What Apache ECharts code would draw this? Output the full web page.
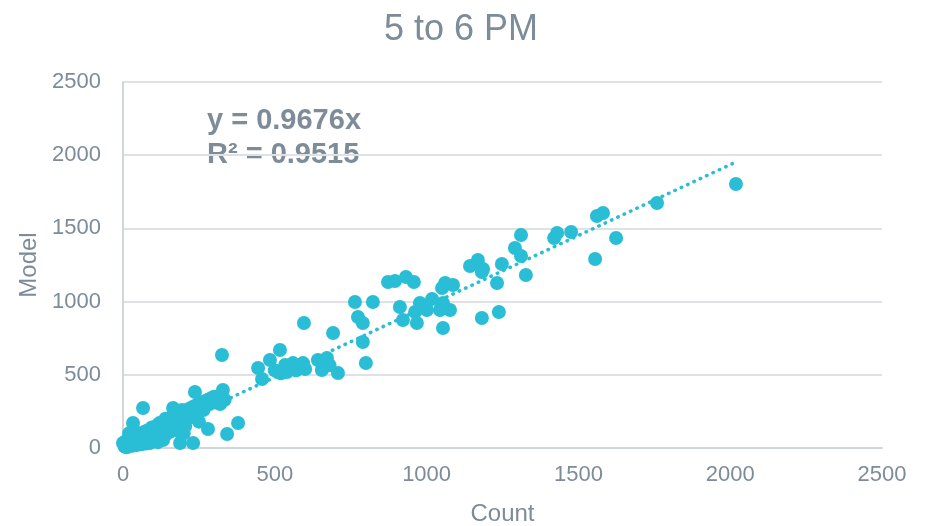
<!DOCTYPE html>
<html>
<head>
<meta charset="utf-8">
<title>5 to 6 PM</title>
<script src="https://cdn.jsdelivr.net/npm/echarts@6/dist/echarts.min.js"></script>
<style>
  html, body { margin: 0; padding: 0; background: #fff; }
  #chart { width: 927px; height: 526px; }
</style>
</head>
<body>
<div id="chart"></div>
<script>
const countLow = [0, 5, 10, 15, 20, 25, 30, 33, 35, 40, 45, 50, 55, 60, 66, 70, 75, 80, 89, 90, 95, 100, 105, 110, 115, 120, 125, 132, 135, 140, 145, 150, 155, 160, 165, 165, 170, 175, 180, 185, 188, 190, 195, 200, 205, 210, 215, 220, 225, 230, 231, 235, 237, 240, 245, 250, 255, 260, 265, 270, 275, 280, 280, 285, 290, 295, 300, 305, 310, 320, 326, 329, 335, 343, 379, 20, 8, 12, 45, 115, 200, 250, 140, 60, 30, 85, 130, 175];
const modelLow = [34, 10, 30, 55, 20, 45, 70, 171, 25, 60, 90, 40, 100, 70, 273, 110, 30, 120, 34, 80, 140, 110, 60, 150, 120, 170, 90, 55, 160, 200, 130, 180, 110, 210, 273, 150, 230, 190, 250, 170, 34, 220, 260, 200, 150, 250, 230, 270, 210, 280, 34, 250, 383, 290, 240, 300, 270, 310, 260, 320, 290, 130, 330, 300, 340, 320, 350, 310, 330, 300, 635, 396, 330, 96, 171, 100, 45, 5, 20, 40, 100, 180, 90, 25, 15, 60, 100, 120];

const countMid = [445, 458, 484, 500, 517, 520, 534, 540, 550, 560, 570, 580, 593, 600, 596, 642, 655, 665, 672, 680, 692, 708];
const modelMid = [546, 471, 601, 530, 669, 510, 567, 519, 545, 580, 530, 555, 580, 540, 854, 601, 533, 580, 615, 565, 786, 512];

const countHigh = [764, 774, 790, 790, 800, 823, 873, 896, 912, 922, 932, 958, 962, 968, 978, 1001, 1018, 1044, 1051, 1054, 1054, 1061, 1077, 1087, 1143, 1169, 1182, 1186, 1182, 1232, 1238, 1248, 1291, 1311, 1311, 1327, 1420, 1430, 1476, 1555, 1561, 1581, 1624, 1759, 2019];
const modelHigh = [997, 895, 854, 724, 581, 997, 1134, 1141, 963, 874, 1168, 1134, 929, 854, 990, 943, 1018, 943, 1093, 990, 820, 1127, 943, 1113, 1243, 1284, 1202, 1223, 888, 1127, 929, 1257, 1366, 1455, 1311, 1182, 1434, 1469, 1475, 1291, 1585, 1605, 1434, 1673, 1803];

const axisTicks = [0, 500, 1000, 1500, 2000, 2500];
const slope = 0.9676;
const trendX = [0, 2019];

const countAll = countLow.concat(countMid, countHigh);
const modelAll = modelLow.concat(modelMid, modelHigh);
const points = countAll.map((c, i) => [c, modelAll[i]]);
const trend = trendX.map((x) => [x, slope * x]);

const gray = '#7d8c98';
const font = 'Liberation Sans, Arial, sans-serif';

const chart = echarts.init(document.getElementById('chart'));
chart.setOption({
  animation: false,
  backgroundColor: '#fff',
  title: {
    text: '5 to 6 PM',
    left: 379,
    top: 7,
    textStyle: { color: gray, fontSize: 36, fontWeight: 'normal', fontFamily: font },
  },
  graphic: [
    {
      type: 'text',
      left: 207,
      top: 104,
      style: {
        text: 'y = 0.9676x\nR² = 0.9515',
        font: 'bold 29px ' + font,
        fill: gray,
        lineHeight: 34,
      },
    },
  ],
  grid: {
    left: 123,
    right: 45,
    top: 82,
    bottom: 78,
    containLabel: false,
    outerBoundsMode: 'none',
  },
  xAxis: {
    type: 'value',
    min: axisTicks[0],
    max: axisTicks[axisTicks.length - 1],
    interval: 500,
    name: 'Count',
    nameLocation: 'middle',
    nameGap: 54,
    nameTextStyle: { color: gray, fontSize: 24, fontFamily: font },
    axisLine: { show: true, lineStyle: { color: '#d0d6db', width: 2 } },
    axisTick: { show: false },
    splitLine: { show: false },
    axisLabel: { color: gray, fontSize: 22, fontFamily: font, margin: 16, formatter: (v) => String(v) },
  },
  yAxis: {
    type: 'value',
    min: axisTicks[0],
    max: axisTicks[axisTicks.length - 1],
    interval: 500,
    name: 'Model',
    nameLocation: 'middle',
    nameGap: 82,
    nameTextStyle: { color: gray, fontSize: 24, fontFamily: font },
    axisLine: { show: true, lineStyle: { color: '#d0d6db', width: 2 } },
    axisTick: { show: false },
    splitLine: { show: true, lineStyle: { color: '#dfe2e5', width: 2 } },
    axisLabel: { color: gray, fontSize: 22, fontFamily: font, margin: 22, formatter: (v) => String(v) },
  },
  series: [
    {
      type: 'scatter',
      data: points,
      symbolSize: 14,
      itemStyle: { color: '#29bed5', opacity: 1 },
      z: 3,
    },
    {
      type: 'line',
      data: trend,
      symbol: 'none',
      lineStyle: { color: '#29bed5', width: 3.5, type: [0.5, 6.5], cap: 'round' },
      z: 4,
    },
  ],
});
</script>
</body>
</html>
